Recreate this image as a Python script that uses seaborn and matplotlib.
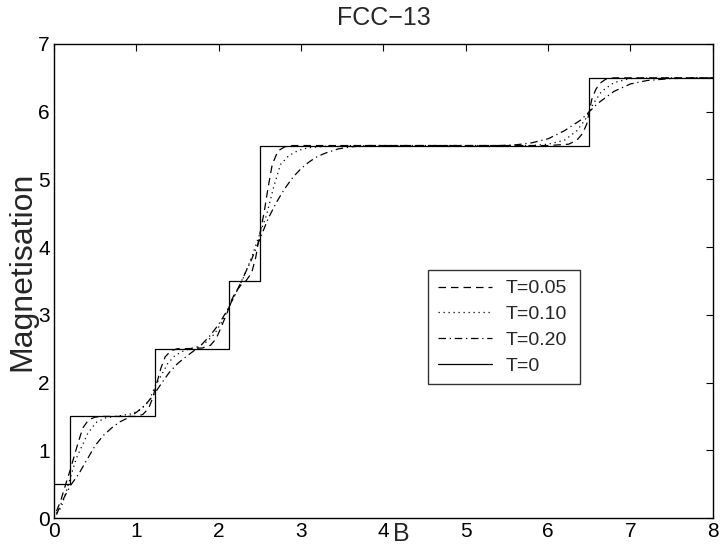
import matplotlib
matplotlib.use("Agg")
import matplotlib.pyplot as plt
import seaborn as sns

# ---- data ----
B_T0 = [0.0, 0.2, 1.23, 2.13, 2.5, 6.5, 8.0]
M_T0 = [0.5, 1.5, 2.5, 3.5, 5.5, 6.5, 6.5]

B_005 = [0.03, 0.08, 0.15, 0.2, 0.23, 0.29, 0.35, 0.42, 0.5, 0.6, 0.8, 1.0, 1.08, 1.15, 1.2,
         1.25, 1.3, 1.35, 1.42, 1.5, 1.6, 1.8, 1.9, 1.97, 2.03, 2.1, 2.15, 2.2, 2.27, 2.33,
         2.4, 2.45, 2.5, 2.55, 2.6, 2.65, 2.72, 2.8, 2.9, 3.0, 4.0, 5.0, 6.0, 6.25, 6.35,
         6.42, 6.47, 6.5, 6.53, 6.58, 6.63, 6.7, 6.8, 7.0, 8.0]
M_005 = [0.1, 0.25, 0.53, 0.72, 0.85, 1.1, 1.33, 1.45, 1.49, 1.5, 1.5, 1.5, 1.53, 1.62, 1.78,
         2.0, 2.22, 2.38, 2.47, 2.5, 2.5, 2.51, 2.55, 2.65, 2.82, 3.02, 3.2, 3.33, 3.44, 3.5,
         3.62, 3.85, 4.2, 4.5, 4.88, 5.22, 5.42, 5.48, 5.5, 5.5, 5.5, 5.5, 5.5, 5.52, 5.58,
         5.68, 5.82, 6.0, 6.18, 6.33, 6.42, 6.48, 6.5, 6.5, 6.5]

B_010 = [0.03, 0.085, 0.15, 0.2, 0.27, 0.35, 0.41, 0.51, 0.63, 0.8, 0.95, 1.05, 1.15, 1.23,
         1.3, 1.38, 1.47, 1.56, 1.65, 1.75, 1.85, 1.95, 2.05, 2.13, 2.2, 2.3, 2.4, 2.5, 2.58,
         2.67, 2.75, 2.85, 2.97, 3.1, 3.3, 3.6, 4.0, 5.0, 5.8, 6.0, 6.2, 6.35, 6.45, 6.5,
         6.55, 6.65, 6.8, 7.0, 7.3, 8.0]
M_010 = [0.07, 0.15, 0.4, 0.6, 0.88, 1.09, 1.25, 1.41, 1.48, 1.51, 1.54, 1.6, 1.72, 1.95,
         2.1, 2.28, 2.4, 2.46, 2.5, 2.53, 2.6, 2.72, 2.92, 3.12, 3.3, 3.55, 3.85, 4.2, 4.47,
         4.9, 5.22, 5.35, 5.43, 5.47, 5.49, 5.5, 5.5, 5.5, 5.5, 5.52, 5.58, 5.72, 5.88, 6.0,
         6.12, 6.3, 6.43, 6.49, 6.5, 6.5]

B_020 = [0.03, 0.1, 0.2, 0.3, 0.4, 0.5, 0.6, 0.7, 0.8, 0.9, 1.0, 1.1, 1.2, 1.3, 1.4, 1.5, 1.6,
         1.7, 1.8, 1.9, 2.0, 2.1, 2.2, 2.3, 2.4, 2.5, 2.6, 2.7, 2.8, 2.9, 3.0, 3.1, 3.2, 3.3,
         3.45, 3.6, 3.8, 4.0, 5.0, 5.4, 5.6, 5.8, 6.0, 6.2, 6.4, 6.5, 6.6, 6.8, 7.0, 7.2, 7.5, 8.0]
M_020 = [0.05, 0.25, 0.48, 0.65, 0.86, 1.07, 1.22, 1.33, 1.42, 1.48, 1.56, 1.66, 1.8, 1.98,
         2.15, 2.28, 2.38, 2.47, 2.57, 2.7, 2.86, 3.06, 3.3, 3.56, 3.82, 4.12, 4.42, 4.66,
         4.86, 5.03, 5.16, 5.26, 5.34, 5.39, 5.45, 5.48, 5.5, 5.5, 5.5, 5.5, 5.51, 5.54, 5.6,
         5.72, 5.88, 6.0, 6.12, 6.3, 6.41, 6.46, 6.49, 6.5]

labels = ["T=0.05", "T=0.10", "T=0.20", "T=0"]
x_ticks = [0, 1, 2, 3, 4, 5, 6, 7, 8]
y_ticks = [0, 1, 2, 3, 4, 5, 6, 7]

sns.set_style("white")
plt.rcParams["font.family"] = ["Liberation Sans", "DejaVu Sans"]

fig = plt.figure(figsize=(7.2, 5.47), dpi=100)
ax = fig.add_axes([0.075, 0.053, 0.915, 0.8666])

lw = 0.9
sns.lineplot(x=B_005, y=M_005, ax=ax, color="black", lw=lw, linestyle=(0, (6, 4)),
             estimator=None, sort=False, label=labels[0])
sns.lineplot(x=B_010, y=M_010, ax=ax, color="black", lw=lw, linestyle=(0, (1, 3)),
             estimator=None, sort=False, label=labels[1])
sns.lineplot(x=B_020, y=M_020, ax=ax, color="black", lw=lw, linestyle=(0, (6, 3, 1, 3)),
             estimator=None, sort=False, label=labels[2])
sns.lineplot(x=B_T0, y=M_T0, ax=ax, color="black", lw=lw, drawstyle="steps-post",
             estimator=None, sort=False, label=labels[3])

ax.set_xlim(0, 8)
ax.set_ylim(0, 7)
ax.set_xticks(x_ticks)
ax.set_yticks(y_ticks)
ax.tick_params(direction="in", length=5, width=0.8, top=True, right=True,
               labelsize=15, pad=3, colors="black")
for s in ax.spines.values():
    s.set_visible(True)
    s.set_color("black")
    s.set_linewidth(1.0)

ax.set_title("FCC\u221213", fontsize=18, pad=14)
ax.set_xlabel("B", fontsize=18, va="bottom")
ax.xaxis.set_label_coords(0.527, -0.059)
ax.set_ylabel("Magnetisation", fontsize=23)
ax.yaxis.set_label_coords(-0.025, 0.52)

leg = ax.legend(loc="upper left", bbox_to_anchor=(0.5675, 0.2806, 0.2305, 0.2424),
                mode="expand", fontsize=14, frameon=True, fancybox=False,
                handlelength=2.8, handletextpad=0.7, borderaxespad=0,
                labelspacing=0.42, borderpad=0.5)
leg.get_frame().set_edgecolor("black")
leg.get_frame().set_linewidth(1.0)

fig.savefig("out.png", dpi=100)
